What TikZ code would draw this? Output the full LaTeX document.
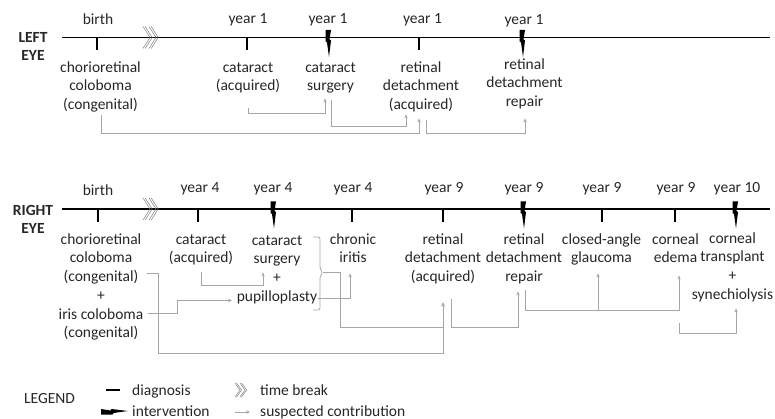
\documentclass[tikz,border=0pt]{standalone}
\usepackage{fontspec}
\setmainfont{Carlito}
\usetikzlibrary{arrows.meta}
\definecolor{txt}{HTML}{262626}
\definecolor{conn}{HTML}{A6A6A6}
\definecolor{brkc}{HTML}{7F7F7F}
\newcommand\topst{\rule{0pt}{12pt}}
\newcommand\botst{\rule[-4pt]{0pt}{4pt}}
\begin{document}
\begin{tikzpicture}[x=1pt,y=-1pt,
  every node/.style={text=txt, font=\fontsize{15.5}{18.7}\selectfont},
  lbl/.style={align=center, inner sep=0pt, anchor=north},
  toplbl/.style={inner sep=0pt, anchor=base},
  eyelbl/.style={align=center, inner sep=0pt, anchor=north, font=\bfseries\fontsize{15.5}{18.4}\selectfont},
  axis/.style={line width=1.3pt, black},
  diag/.style={line width=1.8pt, black},
  contrib/.style={conn, line width=0.8pt, -{Stealth[length=4pt,width=3.4pt]}},
  brk/.style={brkc, line width=0.5pt},
  bolt/.pic={\fill[black] (-2.5,-7.5) -- (3,-7.5) -- (1.5,2) -- (3,3) -- (1,19.5) -- (-1,5) -- (-2.5,4) -- cycle;},
  chev/.pic={\draw[brk] (0,-11) -- (7,0) -- (0,11);
             \draw[brk] (2.2,-11) -- (9.2,0) -- (2.2,11);
             \draw[brk] (6,-11) -- (13,0) -- (6,11);
             \draw[brk] (8.2,-11) -- (15.2,0) -- (8.2,11);},
  chevs/.pic={\draw[brk] (0,-7) -- (5,0) -- (0,7);
             \draw[brk] (1.6,-7) -- (6.6,0) -- (1.6,7);
             \draw[brk] (5,-7) -- (10,0) -- (5,7);
             \draw[brk] (6.6,-7) -- (11.6,0) -- (6.6,7);}
]
\useasboundingbox (0,0) rectangle (775,419);

% ---------------- LEFT EYE ----------------
\node[eyelbl] (lefteye) at (33,30.3) {\topst LEFT\\EYE};
\coordinate (la0) at (62,37.5);
\coordinate (la1) at (770,37.5);
\draw[axis] (la0) -- (la1);

\node[toplbl] (lt0) at (98,25) {birth};
\node[toplbl] (lt1) at (248,24) {year 1};
\node[toplbl] (lt2) at (328,24) {year 1};
\node[toplbl] (lt3) at (422.5,24) {year 1};
\node[toplbl] (lt4) at (524,24.5) {year 1};

\draw[diag] (97,37.5) -- ++(0,13);
\draw[diag] (247,37.5) -- ++(0,13);
\draw[diag] (419,37.5) -- ++(0,13);
\pic at (328,37.5) {bolt};
\pic at (522,37.5) {bolt};
\pic at (143,37.5) {chev};

\node[lbl] (L1) at (100.5,60) {\topst chorioretinal\\coloboma\\(congenital)\botst};
\node[lbl] (L2) at (248,60) {\topst cataract\\(acquired)\botst};
\node[lbl] (L3) at (330.5,60) {\topst cataract\\surgery\botst};
\node[lbl] (L4) at (421,60) {\topst retinal\\detachment\\(acquired)\botst};
\node[lbl] (L5) at (524.5,57) {\topst retinal\\detachment\\repair\botst};

\draw[contrib] ([yshift=-13.3pt]L2.south) -- ++(0,5) -| ([xshift=-5.5pt,yshift=-3.3pt]L3.south);
\draw[contrib] ([xshift=0.5pt,yshift=-5.3pt]L3.south) -- ++(0,26) -| ([xshift=-15pt,yshift=-0.5pt]L4.south);
\draw[contrib] ([xshift=0.5pt,yshift=-1pt]L1.south) -- ++(0,19) -| ([xshift=-2pt,yshift=-4.6pt]L4.south);
\draw[contrib] ([xshift=5pt,yshift=-6.6pt]L4.south) -- ++(0,13) -| ([xshift=0.5pt,yshift=-7.6pt]L5.south);

% ---------------- RIGHT EYE ----------------
\node[eyelbl] (righteye) at (33,203) {\topst RIGHT\\EYE};
\coordinate (ra0) at (62,209);
\coordinate (ra1) at (770,209);
\draw[axis] (ra0) -- (ra1);

\node[toplbl] (rt0) at (98,196) {birth};
\node[toplbl] (rt1) at (200,193) {year 4};
\node[toplbl] (rt2) at (273,193) {year 4};
\node[toplbl] (rt3) at (353,193) {year 4};
\node[toplbl] (rt4) at (444,193) {year 9};
\node[toplbl] (rt5) at (524,193) {year 9};
\node[toplbl] (rt6) at (602,193) {year 9};
\node[toplbl] (rt7) at (676,193) {year 9};
\node[toplbl] (rt8) at (737,193) {year 10};

\draw[diag] (98,209) -- ++(0,13);
\draw[diag] (198,209) -- ++(0,13);
\draw[diag] (352,209) -- ++(0,13);
\draw[diag] (443,209) -- ++(0,13);
\draw[diag] (602,209) -- ++(0,13);
\draw[diag] (675,209) -- ++(0,13);
\pic at (273,209) {bolt};
\pic at (523,209) {bolt};
\pic at (735,209) {bolt};
\pic at (143,209) {chev};

\node[lbl] (R1) at (101,232) {\topst chorioretinal\\coloboma\\(congenital)\\+\\iris coloboma\\(congenital)\botst};
\node[lbl] (R2) at (201,232) {\topst cataract\\(acquired)\botst};
\node[lbl] (R3) at (277,233) {\topst cataract\\surgery\\+\\pupilloplasty\botst};
\node[lbl] (R4) at (353,232) {\topst chronic\\iritis\botst};
\node[lbl] (R5) at (443,232) {\topst retinal\\detachment\\(acquired)\botst};
\node[lbl] (R6) at (524,232) {\topst retinal\\detachment\\repair\botst};
\node[lbl] (R7) at (601.5,232) {\topst closed-angle\\glaucoma\botst};
\node[lbl] (R8) at (675.5,232) {\topst corneal\\edema\botst};
\node[lbl] (R9) at (732.5,231) {\topst corneal\\transplant\\+\\synechiolysis\botst};

% brace around cataract surgery + pupilloplasty
\draw[conn, line width=0.8pt, rounded corners=2pt] (313,237) -- (320,237) -- (320,269) -- (323,272.5) -- (320,276) -- (320,310) -- (313,310);
\coordinate (bt) at (323,272.5);

\draw[contrib] ([yshift=-5.3pt]R2.south) -- ++(0,13) -| ([xshift=-14pt,yshift=33.1pt]R3.south);
\draw[contrib] ([xshift=47pt,yshift=28.5pt]R1.south) -- ++(29,0) |- ([xshift=-45pt,yshift=5.1pt]R3.south);
\draw[contrib] ([xshift=41pt,yshift=7.1pt]R3.south) -| ([xshift=-3pt,yshift=-6.3pt]R4.south);
\draw[contrib] (bt) -- ++(17,0) -- ++(0,54.5) -| ([yshift=-16.6pt]R5.south);
\draw[contrib] ([xshift=46pt,yshift=68.5pt]R1.south) -- ++(11,0) -- ++(0,80) -| ([yshift=-16.6pt]R5.south);
\draw[contrib] ([xshift=8pt,yshift=-13.6pt]R5.south) -- ++(0,28) -| ([xshift=-6pt,yshift=-5.6pt]R6.south);
\draw[contrib] ([xshift=1pt,yshift=-4.6pt]R6.south) -- ++(0,20) -| ([xshift=-3.5pt,yshift=-6.3pt]R7.south);
\draw[contrib] ([xshift=1pt,yshift=-4.6pt]R6.south) -- ++(0,20) -| ([xshift=3.5pt,yshift=-8.3pt]R8.south);
\draw[contrib] ([xshift=3.5pt,yshift=-56.3pt]R8.south) -- ++(0,10) -| ([xshift=3.5pt,yshift=-4.9pt]R9.south);

% ---------------- LEGEND ----------------
\node[toplbl] (leg) at (49.5,403.8) {LEGEND};
\draw[diag] (106,390) -- (120,390);
\node[toplbl, anchor=base west] (ldiag) at (132,395) {diagnosis};
\pic[rotate=90] at (108.5,412) {bolt};
\node[toplbl, anchor=base west] (linter) at (132,416) {intervention};
\pic at (235,390) {chevs};
\node[toplbl, anchor=base west] (ltb) at (260,395) {time break};
\draw[contrib] (235,412) -- (250,412);
\node[toplbl, anchor=base west] (lsc) at (260,416) {suspected contribution};
\end{tikzpicture}
\end{document}
